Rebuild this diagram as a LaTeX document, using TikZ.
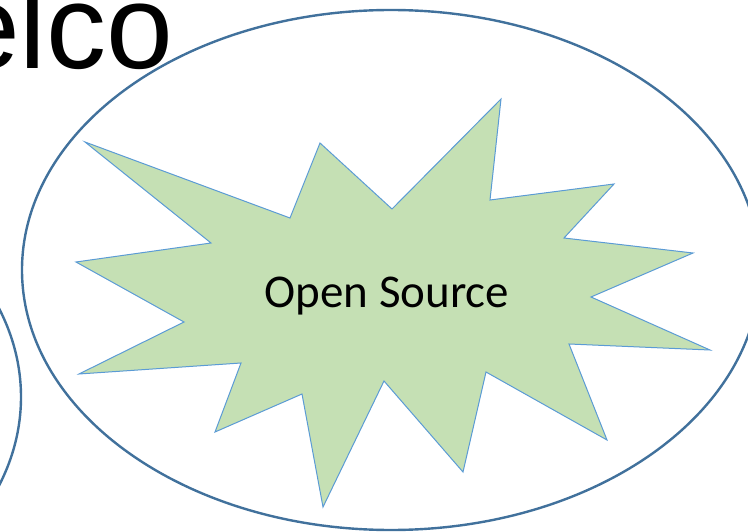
\documentclass[tikz,border=0pt]{standalone}
\usepackage{fontspec}
\setmainfont{Carlito}
\newfontfamily\arialfont{Liberation Sans}
\usetikzlibrary{positioning}
\definecolor{rimblue}{HTML}{41719C}
\definecolor{starline}{HTML}{5B9BD5}
\definecolor{stargreen}{HTML}{C5E0B4}
\begin{document}
\begin{tikzpicture}[x=1pt, y=-1pt,
  rim/.style = {draw=rimblue, line width=2.4pt},
  burst/.style = {draw=starline, fill=stargreen, line width=1pt, line join=miter}]
\useasboundingbox (0,0) rectangle (748,532);
\node (t1) [anchor=base west, inner sep=0pt, font=\arialfont\fontsize{120}{120}\selectfont] at (-47,69) {elco};
\draw [rim] (-348,397) ellipse [x radius=369, y radius=260];
\draw [rim] (391,270) ellipse [x radius=369, y radius=260];
\draw [burst] (85,142) -- (290,218) -- (320,143) -- (392,209) -- (501,99) -- (490,200)
  -- (614,184) -- (564,238) -- (693,253) -- (591,297) -- (710,350) -- (569,344)
  -- (607,440) -- (486,372) -- (463,472) -- (384,381) -- (323,507) -- (302,394)
  -- (215,432) -- (241,363) -- (79,374) -- (184,322) -- (76,262) -- (211,243) -- cycle;
\node (s1) [anchor=base, inner sep=0pt, font=\fontsize{47}{50}\selectfont] at (387,307) {Open Source};
\end{tikzpicture}
\end{document}
